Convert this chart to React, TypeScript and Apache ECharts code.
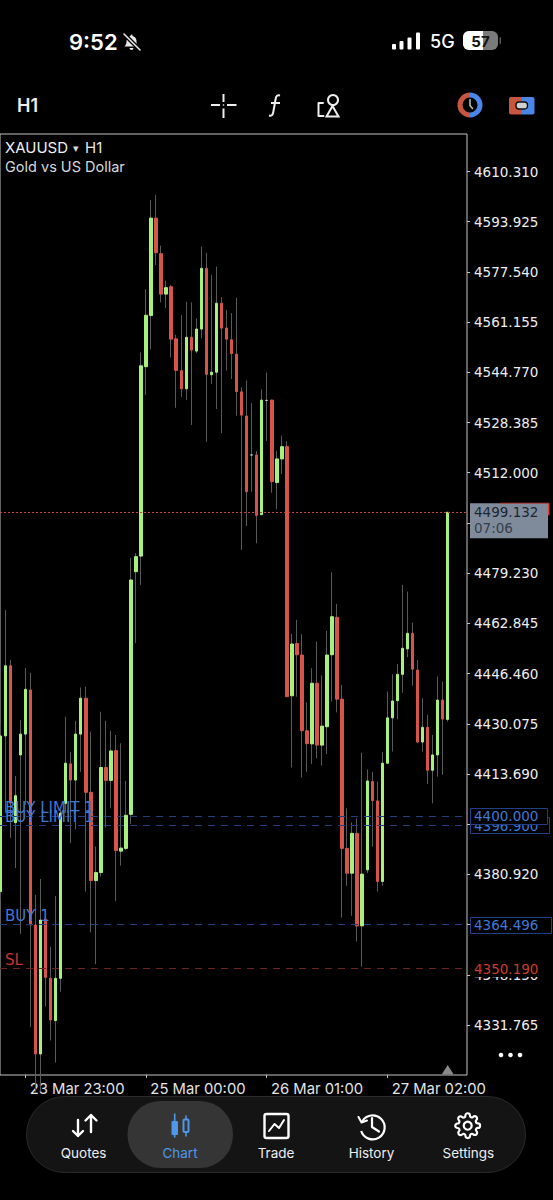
import React, { useEffect, useRef } from "react";
import * as echarts from "echarts";

const opens = [4375.3,4426.1,4449.0,4397.8,4419.9,4426.7,4441.1,4364.4,4322.3,4366.3,4347.0,4333.2,4347.0,4404.1,4417.0,4411.7,4426.7,4438.4,4407.7,4378.9,4381.5,4415.8,4411.6,4421.3,4388.5,4389.4,4400.5,4479.7,4484.8,4546.6,4563.3,4595.1,4583.5,4570.3,4572.7,4555.7,4545.3,4539.4,4556.2,4551.7,4558.9,4578.7,4544.0,4544.8,4567.3,4559.2,4555.4,4550.7,4538.4,4530.5,4517.8,4517.8,4498.3,4535.6,4535.7,4508.8,4516.5,4520.5,4439.2,4456.3,4452.5,4427.8,4423.5,4443.3,4423.1,4429.1,4452.6,4464.8,4438.1,4389.4,4381.3,4394.3,4364.1,4382.4,4411.2,4404.9,4378.6,4417.2,4432.0,4437.6,4446.2,4454.5,4459.6,4447.6,4424.1,4428.9,4414.9,4419.9,4437.8,4431.5];
const closes = [4426.1,4449.0,4404.2,4406.6,4426.7,4441.3,4364.4,4322.3,4366.0,4347.3,4333.4,4347.0,4400.9,4417.2,4411.7,4426.7,4438.4,4407.7,4378.9,4381.5,4415.8,4411.6,4421.2,4388.7,4389.5,4400.2,4477.0,4484.6,4546.9,4563.4,4595.1,4583.8,4570.3,4572.4,4555.6,4545.4,4539.4,4556.2,4552.0,4558.9,4578.7,4544.1,4544.8,4567.3,4559.2,4555.6,4550.9,4538.5,4530.8,4505.8,4517.8,4498.1,4535.7,4535.6,4509.1,4516.5,4520.5,4438.9,4456.1,4452.6,4427.8,4423.6,4443.3,4423.1,4429.3,4452.5,4465.0,4438.1,4389.4,4381.3,4394.3,4364.1,4381.0,4411.4,4405.0,4378.6,4417.2,4432.0,4437.5,4446.2,4454.7,4459.6,4447.9,4424.1,4428.9,4414.9,4419.9,4437.8,4431.6,4499.1];
const lows = [4372.6,4401.0,4392.8,4383.0,4361.5,4403.6,4331.1,4310,4310,4337.8,4326.7,4319.5,4342.6,4401.0,4391.1,4395.6,4414.4,4375.3,4362.0,4351.6,4380.2,4396.2,4402.5,4372.2,4383.8,4388.9,4397.4,4456.4,4475.4,4537.4,4552.3,4579.8,4567.6,4565.7,4549.6,4533.2,4536.8,4535.7,4527.6,4551.0,4555.9,4522.1,4541.0,4532.8,4524.9,4545.3,4542.6,4530.6,4486.8,4494.6,4505.8,4489.0,4498.2,4522.4,4505.5,4500.1,4511.6,4438.8,4415.8,4438.9,4412.5,4414.4,4417.0,4418.8,4416.4,4420.2,4437.3,4433.8,4366.8,4377.2,4367.4,4359.0,4350.8,4381.3,4390.0,4375.3,4377.2,4417.0,4421.0,4431.5,4440.2,4451.8,4442.5,4423.7,4421.0,4410.4,4404.1,4412.8,4413.4,4430.8];
const highs = [4429.7,4467.2,4450.9,4413.0,4431.3,4448.3,4446.7,4374.2,4379.4,4367.7,4357.3,4373.9,4401.9,4432.4,4420.8,4431.0,4441.9,4442.2,4427.5,4390.0,4434.0,4431.0,4427.7,4426.4,4423.7,4411.4,4484.2,4485.8,4551.3,4571.9,4601.0,4602.7,4586.1,4574.7,4573.3,4557.0,4563.4,4567.8,4567.6,4562.4,4585.8,4583.8,4576.6,4579.3,4569.3,4565.1,4564.1,4569.1,4539.9,4542.1,4534.7,4519.1,4539.2,4544.7,4535.9,4519.1,4524.1,4522.3,4459.4,4464.0,4459.3,4437.1,4448.2,4456.9,4445.8,4460.4,4479.5,4469.2,4442.7,4402.5,4397.9,4399.2,4420.6,4415.2,4414.4,4411.2,4420.8,4440.6,4446.2,4449.6,4475.4,4473.2,4463.1,4450.9,4438.4,4433.0,4426.4,4445.5,4443.8,4499.132];

const yTicks = [4610.31,4593.925,4577.54,4561.155,4544.77,4528.385,4512.0,4495.615,4479.23,4462.845,4446.46,4430.075,4413.69,4397.305,4380.92,4364.535,4348.15,4331.765];
const yLabelTicks = [4610.31,4593.925,4577.54,4561.155,4544.77,4528.385,4512.0,4479.23,4462.845,4446.46,4430.075,4413.69,4380.92,4348.15,4331.765];
const xTickIdx = [5,29,53,77];
const xTickLabels = ["23 Mar 23:00","25 Mar 00:00","26 Mar 01:00","27 Mar 02:00"];
const navLabels = ["Quotes","Chart","Trade","History","Settings"];
const currentPrice = 4499.132;
const buyLimit1 = 4400.0;
const buyLimit2 = 4396.9;
const buyOne = 4364.496;
const stopLoss = 4350.19;

const GREEN = "#a8f07e";
const RED = "#d6544a";
const BLUE_TEXT = "#3f78d6";
const FONT = "Inter";
const PRICE_FONT = "DejaVu Sans";
const PRICE_SIZE = 13.5;

const bellD = "M8 1.5a1 1 0 0 1 1 1v.6c2.6.5 4 2.7 4 5.2 0 2.7.6 3.6 2 5.2H1c1.4-1.6 2-2.5 2-5.2 0-2.5 1.4-4.7 4-5.2v-.6a1 1 0 0 1 1-1z M6 15h4a2 2 0 0 1-4 0z";
const fnD = "M12 1.5c-2.5-.7-3.8.4-4.3 3L5.2 18.5c-.5 2.6-1.8 3.6-4.2 3 M3 9h9";
const histD = "M2.2 7.5A12 12 0 1 1 1.2 17";
const gearD = "M19.4 15a1.65 1.65 0 0 0 .33 1.82l.06.06a2 2 0 0 1 0 2.83 2 2 0 0 1-2.83 0l-.06-.06a1.65 1.65 0 0 0-1.82-.33 1.65 1.65 0 0 0-1 1.51V21a2 2 0 0 1-2 2 2 2 0 0 1-2-2v-.09A1.65 1.65 0 0 0 9 19.4a1.65 1.65 0 0 0-1.82.33l-.06.06a2 2 0 0 1-2.83 0 2 2 0 0 1 0-2.83l.06-.06a1.65 1.65 0 0 0 .33-1.82 1.65 1.65 0 0 0-1.51-1H3a2 2 0 0 1-2-2 2 2 0 0 1 2-2h.09A1.65 1.65 0 0 0 4.6 9a1.65 1.65 0 0 0-.33-1.82l-.06-.06a2 2 0 0 1 0-2.83 2 2 0 0 1 2.83 0l.06.06a1.65 1.65 0 0 0 1.82.33H9a1.65 1.65 0 0 0 1-1.51V3a2 2 0 0 1 2-2 2 2 0 0 1 2 2v.09a1.65 1.65 0 0 0 1 1.51 1.65 1.65 0 0 0 1.82-.33l.06-.06a2 2 0 0 1 2.83 0 2 2 0 0 1 0 2.83l-.06.06a1.65 1.65 0 0 0-.33 1.82V9a1.65 1.65 0 0 0 1.51 1H21a2 2 0 0 1 2 2 2 2 0 0 1-2 2h-.09a1.65 1.65 0 0 0-1.51 1z";

echarts.graphic.registerShape("bellIcon", echarts.graphic.extendPath(bellD, {}));
echarts.graphic.registerShape("fnIcon", echarts.graphic.extendPath(fnD, {}));
echarts.graphic.registerShape("histIcon", echarts.graphic.extendPath(histD, {}));
echarts.graphic.registerShape("gearIcon", echarts.graphic.extendPath(gearD, {}));

const txt = (text: string, x: number, y: number, size: number, fill: string, align = "left", weight = 400, font = FONT) => ({
  type: "text", z: 100, silent: true,
  style: { text, x, y, fill, font: `${weight} ${size}px "${font}", sans-serif`, align, verticalAlign: "middle", textAlign: align, textVerticalAlign: "middle" },
});
const rect = (x: number, y: number, width: number, height: number, fill: string, stroke?: string, r = 0, lineWidth = 1) => ({
  type: "rect", z: 100, silent: true, shape: { x, y, width, height, r }, style: { fill, stroke, lineWidth },
});
const poly = (points: number[][], stroke: string, lineWidth = 2, lineCap = "round") => ({
  type: "polyline", z: 100, silent: true, shape: { points }, style: { stroke, lineWidth, fill: "none", lineCap, lineJoin: "round" },
});

function buildGraphics(chart: any) {
  const py = (v: number) => chart.convertToPixel({ yAxisIndex: 0 }, v);
  const px = (v: number) => chart.convertToPixel({ xAxisIndex: 0 }, v);
  const els: any[] = [];
  // status bar
  els.push(txt("9:52", 69, 41.5, 22, "#ffffff", "left", 600));
  els.push({ type: "bellIcon", z: 100, silent: true, x: 123.5, y: 33, style: { fill: "#e8e8e8" } });
  els.push(poly([[124, 34], [140, 50]], "#000000", 4));
  els.push(poly([[124, 34], [140, 50]], "#e8e8e8", 1.6));
  els[els.length - 2].z = 101; els[els.length - 1].z = 102;
  els.push(rect(392, 44, 4, 5.5, "#ffffff", undefined, 1));
  els.push(rect(399.5, 41, 4, 8.5, "#ffffff", undefined, 1));
  els.push(rect(407.5, 37.5, 4, 12, "#ffffff", undefined, 1));
  els.push(rect(416, 32.5, 4, 17, "#ffffff", undefined, 1));
  els.push(txt("5G", 430, 41.5, 18, "#ffffff", "left", 500));
  els.push(rect(463, 31, 35, 19, "#7a7a7a", undefined, 6));
  els.push({ type: "rect", z: 101, silent: true, shape: { x: 463, y: 31, width: 20, height: 19, r: [6, 0, 0, 6] }, style: { fill: "#ffffff" } });
  els.push(rect(499.5, 37, 1.5, 7, "#555555", undefined, 1));
  const batt = txt("57", 480.5, 41, 15, "#111111", "center", 700);
  batt.z = 103;
  els.push(batt);
  // toolbar
  els.push(txt("H1", 17, 105, 18, "#eeeeee", "left", 600));
  els.push(poly([[211, 105], [220, 105]], "#eeeeee", 2, "butt"));
  els.push(poly([[227, 105], [236.5, 105]], "#eeeeee", 2, "butt"));
  els.push(poly([[223.5, 94], [223.5, 102]], "#eeeeee", 2, "butt"));
  els.push(poly([[223.5, 108.5], [223.5, 118]], "#eeeeee", 2, "butt"));
  els.push(rect(222.8, 104.3, 1.4, 1.4, "#eeeeee"));
  els.push({ type: "fnIcon", z: 100, silent: true, x: 268, y: 94, style: { stroke: "#eeeeee", lineWidth: 2, fill: "none" } });
  els.push({ type: "circle", z: 100, silent: true, shape: { cx: 333, cy: 100, r: 5 }, style: { fill: "none", stroke: "#eeeeee", lineWidth: 2 } });
  els.push({ type: "polygon", z: 100, silent: true, shape: { points: [[332.5, 106], [338.5, 116.5], [326.5, 116.5]] }, style: { fill: "none", stroke: "#eeeeee", lineWidth: 2 } });
  els.push(poly([[323, 103], [318.5, 103], [318.5, 116], [323.5, 116]], "#eeeeee", 2));
  els.push({ type: "sector", z: 100, silent: true, shape: { cx: 470, cy: 105, r: 12.5, r0: 7.5, startAngle: Math.PI / 2, endAngle: (3 * Math.PI) / 2 }, style: { fill: "#c8553f" } });
  els.push({ type: "sector", z: 100, silent: true, shape: { cx: 470, cy: 105, r: 12.5, r0: 7.5, startAngle: -Math.PI / 2, endAngle: Math.PI / 2 }, style: { fill: "#4a86e8" } });
  els.push(poly([[470, 99.5], [470, 105.5], [472.5, 108.5]], "#b8b8b8", 1.6));
  els.push({ type: "rect", z: 100, silent: true, shape: { x: 509, y: 97, width: 13, height: 17.5, r: [2, 0, 0, 2] }, style: { fill: "#c8553f" } });
  els.push({ type: "rect", z: 100, silent: true, shape: { x: 522, y: 97, width: 12.5, height: 17.5, r: [0, 2, 2, 0] }, style: { fill: "#4a86e8" } });
  const pill = rect(516, 102, 11.5, 7, "#d0d0d0", "#111111", 3, 1.4);
  pill.z = 101;
  els.push(pill);
  // plot titles
  els.push(txt("XAUUSD", 5, 147.5, 15, "#f0f0f0", "left", 400));
  els.push(txt("▾", 73, 148, 11, "#d8d8d8", "left", 400, "DejaVu Sans"));
  els.push(txt("H1", 85, 147.5, 15, "#e8e8e8"));
  els.push(txt("Gold vs US Dollar", 5, 166, 14.5, "#d8d8d8"));
  // order labels on the left
  const lblFont = "DejaVu Sans";
  els.push(txt("BUY LIMIT 1", 5, py(buyLimit1) - 8, 15, BLUE_TEXT, "left", 400, lblFont));
  els.push(txt("BUY LIMIT 1", 5, py(buyLimit2) - 8.5, 15, BLUE_TEXT, "left", 400, lblFont));
  els.push(txt("BUY 1", 5, py(buyOne) - 8.5, 15, BLUE_TEXT, "left", 400, lblFont));
  els.push(txt("SL", 5, py(stopLoss) - 8.5, 15, "#c8352b", "left", 400, lblFont));
  // current price box
  const yCur = py(currentPrice);
  els.push(rect(470, yCur - 9, 78, 35, "#7f8b9b"));
  els.push(rect(548, yCur - 9, 1.5, 12, "#d6443a"));
  els.push(rect(500, yCur - 9.5, 49, 1, "#b8443c"));
  const p1 = txt("4499.132", 474, yCur, PRICE_SIZE, "#1b2633", "left", 400, PRICE_FONT);
  p1.z = 102;
  const p2 = txt("07:06", 474, yCur + 16, PRICE_SIZE, "#333e4c", "left", 400, PRICE_FONT);
  p2.z = 102;
  els.push(p1, p2);
  // order boxes on the right
  const boxes: [number, number, string][] = [[buyLimit2, 79, "4396.900"], [buyLimit1, 77, "4400.000"], [buyOne, 81, "4364.496"]];
  boxes.forEach(([v, w, s], k) => {
    const y = py(v);
    const b = rect(470.5, Math.round(y) - 8 + 0.5, w, 16, "#000000", "#1f3f86");
    b.z = 100 + k * 2;
    const t = txt(s, 474, y + 0.5, PRICE_SIZE, BLUE_TEXT, "left", 400, PRICE_FONT);
    t.z = 101 + k * 2;
    els.push(b, t);
  });
  const ySl = py(stopLoss);
  const slBox = rect(470, ySl - 8.5, 80, 17, "#000000");
  const slTxt = txt("4350.190", 474, ySl, PRICE_SIZE, "#cc3a2e", "left", 400, PRICE_FONT);
  slTxt.z = 101;
  els.push(slBox, slTxt);
  // more + last candle marker
  [501, 510.5, 520].forEach((cx) =>
    els.push({ type: "circle", z: 100, silent: true, shape: { cx, cy: 1055, r: 2.3 }, style: { fill: "#ffffff" } }));
  const lastX = px(opens.length - 1);
  els.push({ type: "polygon", z: 100, silent: true, shape: { points: [[lastX, 1065], [lastX + 6, 1074.5], [lastX - 6, 1074.5]] }, style: { fill: "#8a8a8a" } });
  // bottom navigation
  els.push(rect(26.5, 1096.5, 499, 76, "#141414", "#2a2a2a", 38));
  els.push(rect(127.5, 1101, 105.5, 67, "#353535", undefined, 33));
  const navX = [83.6, 180, 276, 371.5, 468.4];
  navLabels.forEach((s, i) => els.push(txt(s, navX[i], 1153, 13.5, i === 1 ? "#4f97e8" : "#eeeeee", "center", 400)));
  // quotes icon
  els.push(poly([[78, 1120], [78, 1136], [73, 1131], [78, 1136], [83, 1131]], "#ffffff", 2.4));
  els.push(poly([[91, 1132], [91, 1115], [85.5, 1120.5], [91, 1115], [96.5, 1120.5]], "#ffffff", 2.4));
  // chart icon
  const iconBlue = "#4f97e8";
  els.push(poly([[174.7, 1114], [174.7, 1137]], iconBlue, 1.6));
  els.push(rect(171.5, 1121, 6.5, 14, iconBlue, undefined, 1));
  els.push(poly([[186, 1116], [186, 1136]], iconBlue, 1.6));
  els.push(rect(183.5, 1119.5, 5, 12.5, "#353535", iconBlue, 1, 2));
  // trade icon
  els.push(rect(264.5, 1114, 24, 24, "none", "#ffffff", 2, 2.4));
  els.push(poly([[269, 1131], [274.5, 1124], [279, 1128], [284, 1120]], "#ffffff", 2));
  // history icon
  els.push({ type: "histIcon", z: 100, silent: true, x: 360, y: 1114, style: { fill: "none", stroke: "#ffffff", lineWidth: 2.2 } });
  els.push(poly([[358.5, 1117], [361.5, 1122.5], [367, 1120.5]], "#ffffff", 2));
  els.push(poly([[372, 1118], [372, 1127], [379, 1131.5]], "#ffffff", 2.2));
  // settings icon
  els.push({ type: "gearIcon", z: 100, silent: true, x: 454.1, y: 1112.1, scaleX: 1.13, scaleY: 1.13, style: { fill: "none", stroke: "#ffffff", lineWidth: 1.9 } });
  els.push({ type: "circle", z: 100, silent: true, shape: { cx: 467.7, cy: 1125.7, r: 4 }, style: { fill: "none", stroke: "#ffffff", lineWidth: 2.2 } });
  return els;
}

export default function App() {
  const ref = useRef<HTMLDivElement>(null);
  useEffect(() => {
    const chart = echarts.init(ref.current!, null, { renderer: "svg" });
    const wickData = opens.map((o, i) => [i, o, closes[i], lows[i], highs[i]]);
    const bodyData = opens.map((o, i) => [i, o, closes[i], Math.min(o, closes[i]), Math.max(o, closes[i])]);
    const level = (v: number, color: string, dash: number[], width = 1) => ({
      yAxis: v,
      lineStyle: { color, type: dash as any, width },
    });
    chart.setOption({
      animation: false,
      backgroundColor: "#000000",
      grid: { show: true, left: 0, top: 134, right: 86, bottom: 125, borderColor: "#c4c4c4", borderWidth: 1, backgroundColor: "#000000", containLabel: false },
      xAxis: {
        type: "value", position: "bottom", min: -0.06, max: 92.84, splitLine: { show: false },
        axisLine: { show: false, onZero: false },
        axisTick: { show: true, customValues: xTickIdx, length: 3, lineStyle: { color: "#c4c4c4" } },
        axisLabel: {
          show: true, customValues: xTickIdx.map((v) => v + 0.85), align: "left", margin: 6,
          color: "#e4e4e4", fontFamily: FONT, fontSize: 14.8,
          formatter: (v: number) => xTickLabels[xTickIdx.findIndex((t) => Math.abs(t + 0.85 - v) < 0.01)] ?? "",
        },
      },
      yAxis: {
        type: "value", position: "right", min: 4315.44, max: 4622.55, scale: true, splitLine: { show: false },
        axisLine: { show: false, onZero: false },
        axisTick: { show: true, customValues: yTicks, length: 3, lineStyle: { color: "#c4c4c4" } },
        axisLabel: {
          show: true, customValues: yLabelTicks, margin: 7, color: "#eeeeee", fontFamily: PRICE_FONT, fontSize: PRICE_SIZE,
          formatter: (v: number) => v.toFixed(3),
        },
      },
      series: [
        {
          type: "candlestick", name: "Wicks", encode: { x: 0, y: [1, 2, 3, 4] }, data: wickData, barWidth: 1, z: 2,
          itemStyle: { color: "#5a5a5a", color0: "#5a5a5a", borderColor: "#5a5a5a", borderColor0: "#5a5a5a", borderColorDoji: "#5a5a5a", borderWidth: 1 },
          silent: true,
        },
        {
          type: "candlestick", name: "XAUUSD", encode: { x: 0, y: [1, 2, 3, 4] }, data: bodyData, barWidth: 3, z: 3,
          itemStyle: { color: GREEN, color0: RED, borderColor: GREEN, borderColor0: RED, borderColorDoji: "#d0d0d0", borderWidth: 1 },
          silent: true,
          markLine: {
            silent: true, symbol: "none", animation: false, label: { show: false }, z: 5,
            data: [
              level(currentPrice, "#c8453b", [2, 2]),
              level(buyLimit1, "#23407f", [7, 6]),
              level(buyLimit2, "#23407f", [7, 6]),
              level(buyOne, "#23407f", [7, 6]),
              level(stopLoss, "#6e241f", [7, 6]),
            ],
          },
        },
      ],
    });
    chart.setOption({ graphic: { elements: buildGraphics(chart) } });
    return () => chart.dispose();
  }, []);
  return <div ref={ref} style={{ position: "absolute", left: 0, top: 0, width: 553, height: 1200, background: "#000" }} />;
}
